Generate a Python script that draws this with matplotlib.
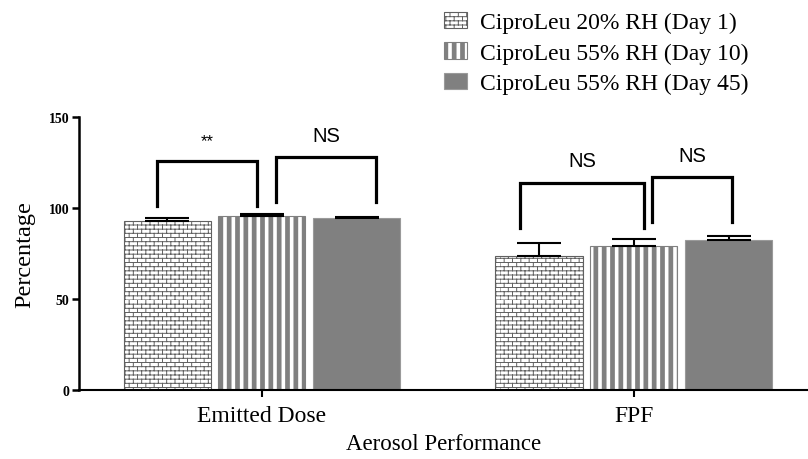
import numpy as np
import matplotlib
matplotlib.use("Agg")
import matplotlib.pyplot as plt
from matplotlib import hatch as mhatch
from matplotlib.path import Path

# data
groups = ["Emitted Dose", "FPF"]
series = ["CiproLeu 20% RH (Day 1)", "CiproLeu 55% RH (Day 10)", "CiproLeu 55% RH (Day 45)"]
means = [[93.0, 73.4], [95.8, 79.3], [94.5, 82.4]]
errs = [[1.3, 7.2], [0.9, 3.5], [0.7, 2.2]]
# significance brackets: (x_left, x_right, leg_left, leg_right, top, label)
brackets = [(-0.283, -0.014, 100.9, 100.9, 126.0, "**"),
            (0.038, 0.308, 103.5, 103.1, 127.8, "NS"),
            (0.694, 1.028, 88.8, 88.8, 114.0, "NS"),
            (1.050, 1.263, 92.1, 92.1, 116.8, "NS")]


class BrickHatch(mhatch.HatchPatternBase):
    """brick-wall hatch, selected by the letter 'b'"""
    def __init__(self, hatch, density):
        self.rows = int(hatch.count('b') * density)
        self.rows -= self.rows % 2
        self.cols = max(self.rows // 2, 1)
        self.num_vertices = (self.rows * 2 + self.rows * self.cols * 2) if self.rows else 0

    def set_vertices_and_codes(self, vertices, codes):
        k = 0
        n, m = self.rows, self.cols
        for i in range(n):
            y0, y1 = i / n, (i + 1) / n
            vertices[k] = (0, y0); vertices[k + 1] = (1, y0)
            codes[k] = Path.MOVETO; codes[k + 1] = Path.LINETO
            k += 2
            for j in range(m):
                xx = (j + 0.5 * (i % 2)) / m
                vertices[k] = (xx, y0); vertices[k + 1] = (xx, y1)
                codes[k] = Path.MOVETO; codes[k + 1] = Path.LINETO
                k += 2


mhatch._hatch_types.append(BrickHatch)

plt.rcParams["font.family"] = ["Liberation Serif", "DejaVu Serif"]
fig = plt.figure(figsize=(8.08, 4.6), dpi=100)
ax = fig.add_axes([0.0978, 0.15, 0.902, 0.5935])

x = np.arange(len(groups))
w, off = 0.234, 0.255
styles = [dict(color="white", edgecolor="#606060", hatch="bbbb", hlw=0.7),
          dict(color="white", edgecolor="#808080", hatch="||", hlw=3.4),
          dict(color="#808080", edgecolor="#9a9a9a", hatch=None, hlw=1.0)]
for i, (name, st) in enumerate(zip(series, styles)):
    pos = x + (i - 1) * off
    bars = ax.bar(pos, means[i], w, color=st["color"], edgecolor=st["edgecolor"],
                  hatch=st["hatch"], linewidth=0.8, label=name, zorder=2)
    for b in bars:
        b.set_hatch_linewidth(st["hlw"])
    ax.errorbar(pos, means[i], yerr=[np.zeros(len(groups)), errs[i]], fmt="none",
                ecolor="black", elinewidth=1.5, capsize=15.5, capthick=1.5, zorder=3)

for xl, xr, yl, yr, top, lab in brackets:
    ax.plot([xl, xl, xr, xr], [yl, top, top, yr], color="black", lw=2.3,
            solid_joinstyle="miter", zorder=4)
    ax.text((xl + xr) / 2, top + 7, lab, ha="center", va="bottom",
            family="Liberation Sans", fontsize=14.5 if lab == "NS" else 12)

ax.set_xlim(-0.492, 1.468)
ax.set_ylim(0, 150)
ax.set_yticks([0, 50, 100, 150])
ax.set_xticks(x)
ax.set_xticklabels(groups, fontsize=17)
for t in ax.get_yticklabels():
    t.set_fontweight("bold"); t.set_fontsize(10)
ax.set_ylabel("Percentage", fontsize=17.5, labelpad=10)
ax.set_xlabel("Aerosol Performance", fontsize=16.5, labelpad=4.5)
for s in ("top", "right"):
    ax.spines[s].set_visible(False)
ax.spines["left"].set_linewidth(1.8)
ax.spines["bottom"].set_linewidth(1.5)
ax.tick_params(axis="y", width=1.8, length=5, pad=2)
ax.tick_params(axis="x", width=1.5, length=5, pad=6)

leg = fig.legend(loc="upper left", bbox_to_anchor=(0.523, 1.018), frameon=False, fontsize=17,
                 handlelength=1.0, handleheight=0.7, labelspacing=0.38, handletextpad=0.55)
for h, st in zip(leg.legend_handles, styles):
    h.set_hatch_linewidth(st["hlw"])
fig.savefig("out.png", dpi=100)
